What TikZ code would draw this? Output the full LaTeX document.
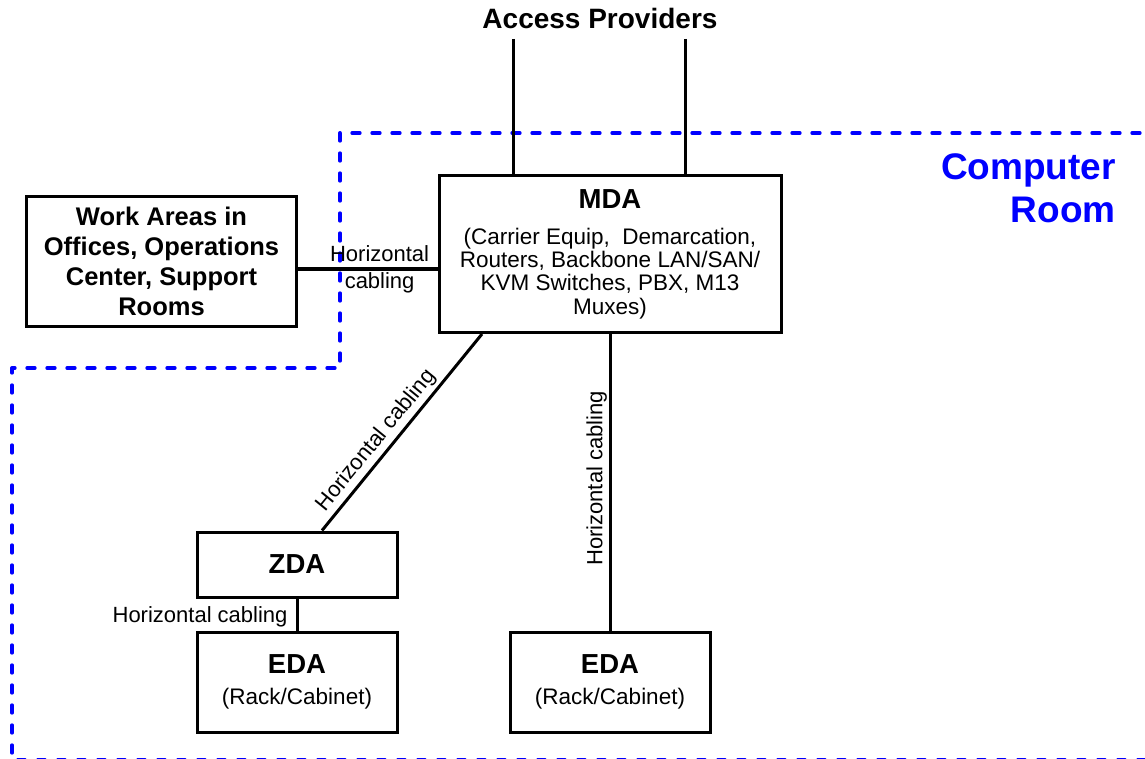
\documentclass[tikz,border=0pt]{standalone}
\usepackage{fontspec}
\setmainfont{Liberation Sans}
\begin{document}
\begin{tikzpicture}[x=1pt,y=-1pt,
  box/.style={draw=black, line width=3pt, inner sep=0pt, align=center},
  wire/.style={draw=black, line width=3pt},
  lbl/.style={font=\fontsize{22}{27}\selectfont, inner sep=0pt},
  room/.style={draw=blue, line width=3.3pt, dash pattern=on 8pt off 12pt, line cap=round, line join=round}]
\useasboundingbox (0,0) rectangle (1145,759);
% computer room boundary
\draw[room] (1160,133) -- (340,133) -- (340,368) -- (12,368) -- (12,759.6) -- (1160,759.6);
% nodes
\node[box, minimum width=270pt, minimum height=129pt, font=\fontsize{25.5}{30}\selectfont\bfseries] (wa) at (161.5,261.5) {Work Areas in\\Offices, Operations\\Center, Support\\Rooms};
\node[box, minimum width=342pt, minimum height=157pt, font=\fontsize{22.5}{23.4}\selectfont] (mda) at (610,254) {{\fontsize{27.5}{27.5}\selectfont\bfseries MDA}\\[12.6pt](Carrier Equip, \ Demarcation,\\Routers, Backbone LAN/SAN/\\KVM Switches, PBX, M13\\Muxes)};
\node[box, minimum width=200pt, minimum height=65pt, font=\fontsize{27.5}{30}\selectfont\bfseries] (zda) at (297,564.5) {ZDA};
\node[box, minimum width=200pt, minimum height=100pt, font=\fontsize{22.5}{31}\selectfont] (eda1) at (297,682) {{\fontsize{27.5}{31}\selectfont\bfseries EDA}\\(Rack/Cabinet)};
\node[box, minimum width=200pt, minimum height=100pt, font=\fontsize{22.5}{31}\selectfont] (eda2) at (610,682) {{\fontsize{27.5}{31}\selectfont\bfseries EDA}\\(Rack/Cabinet)};
\node[font=\fontsize{28}{30}\selectfont\bfseries, anchor=base, inner sep=0pt] (ap) at (600,29) {Access Providers};
\node[font=\fontsize{37}{43}\selectfont\bfseries, text=blue, align=right, anchor=east, inner sep=0pt] (cr) at (1116,188) {Computer\\Room};
\coordinate (ap1) at (513,39);
\coordinate (ap2) at (685,39);
% connectors
\draw[wire] (ap1) -- (ap1 |- mda.north);
\draw[wire] (ap2) -- (ap2 |- mda.north);
\draw[wire] (wa.east |- 0,269) -- node[lbl, align=center, pos=0.585] {Horizontal\\cabling} (mda.west |- 0,269);
\draw[wire] (322,0 |- zda.north) -- node[lbl, sloped, above, inner sep=3pt, pos=0.41] {Horizontal cabling} (482,0 |- mda.south);
\draw[wire] (mda.south) -- node[lbl, pos=0.487, rotate=90, anchor=south, inner sep=1.5pt] {Horizontal cabling} (eda2.north);
\draw[wire] (zda.south) -- node[lbl, left, inner sep=8pt, yshift=-2pt] {Horizontal cabling} (eda1.north);
\end{tikzpicture}
\end{document}
